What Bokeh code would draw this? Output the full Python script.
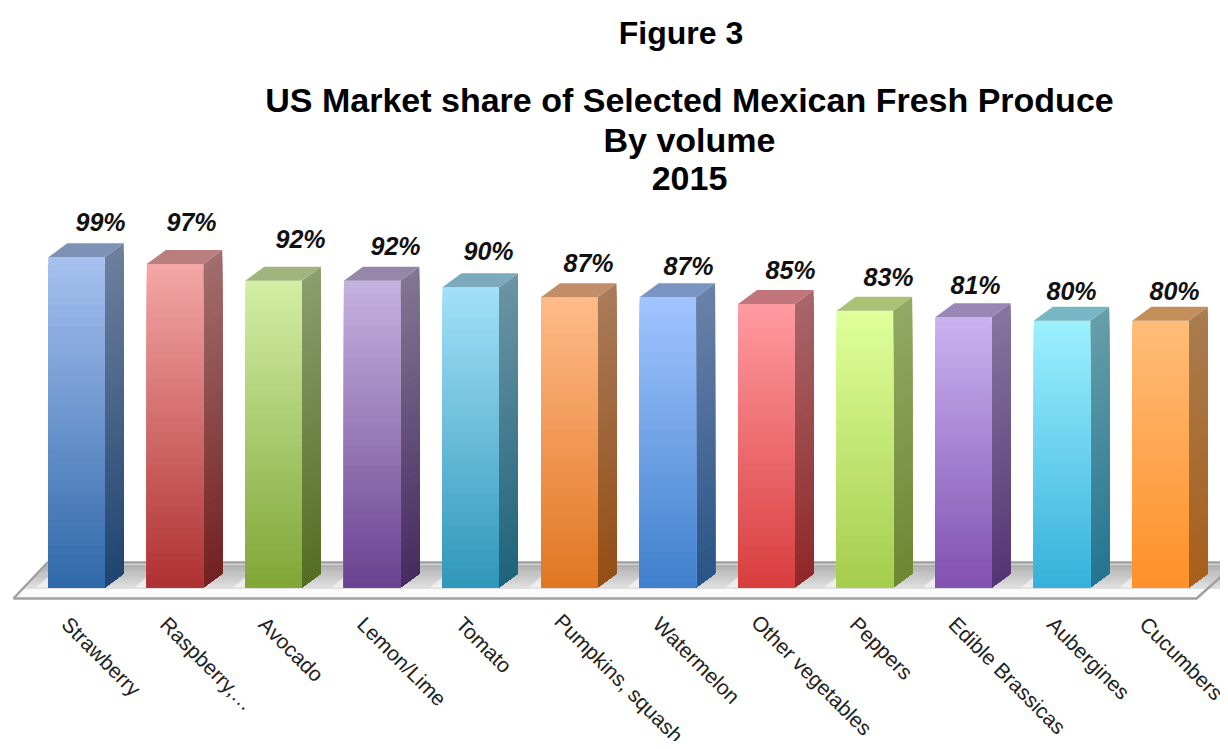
from bokeh.plotting import figure
from bokeh.embed import file_html
from bokeh.resources import INLINE
from bokeh.core.properties import value

# ---------- data ----------
categories = ["Strawberry", "Raspberry,…", "Avocado", "Lemon/Lime", "Tomato", "Pumpkins, squash",
              "Watermelon", "Other vegetables", "Peppers", "Edible Brassicas", "Aubergines", "Cucumbers"]
shares = [99, 97, 92, 92, 90, 87, 87, 85, 83, 81, 80, 80]
top_colors = ["#A6C0F0", "#F3A6A5", "#D2EEA5", "#C4B2DE", "#A2E0F8", "#FFBA88",
              "#A0C4FF", "#FF9AA0", "#DEFF9A", "#C9B2F0", "#9CF0FF", "#FFBC78"]
bottom_colors = ["#2E67A8", "#AE3030", "#7FA535", "#6A4090", "#2E96B8", "#E07520",
                 "#3F7FCC", "#D83C3C", "#A5CC4C", "#8050B0", "#35B0DA", "#FF9028"]
figure_label = "Figure 3"
title_lines = ["US Market share of Selected Mexican Fresh Produce", "By volume", "2015"]

# ---------- layout (pixels in the picture) ----------
W, H = 1220, 741
PX_X = 98.55        # pixels per category
PX_Y = 3.335        # pixels per percentage point
X0_PAGE, Y0_PAGE = 76, 587
FX = lambda px: (px - X0_PAGE) / PX_X
FY = lambda py: (Y0_PAGE - py) / PX_Y
BAR_W = 56.5 / PX_X
DX, DY = 19 / PX_X, 14 / PX_Y
label_page_x = [100, 191, 300, 395, 488, 588, 688, 790, 888, 975, 1071, 1174]
label_page_y = [221, 221, 238, 245, 250, 262, 265, 269, 276, 284, 290, 290]
cat_nudge_x = [0, 0, 0, 0, 0, 0, 0, 0, 0, 0, 0, -6]
cat_nudge_y = [0, 0, 0, 0, 0, -3, 0, -2, 0, 0, 0, 0]
STEPS = 48


def rgb(h):
    return [int(h[i:i + 2], 16) for i in (1, 3, 5)]


def mix(a, b, t, f=1.0):
    c = [(x + (y - x) * t) * f for x, y in zip(rgb(a), rgb(b))]
    return "#%02x%02x%02x" % tuple(int(round(v)) for v in c)


p = figure(width=W, height=H, output_backend="svg", toolbar_location=None,
           x_range=(FX(0), FX(W)), y_range=(FY(H), FY(0)),
           min_border=0, outline_line_color=None, background_fill_color="white")
p.axis.visible = False
p.grid.visible = False

# ---------- floor ----------
fl, fr, bl, br = FX(13), FX(1196), FX(47), FX(1232)
yf, yb = FY(598), FY(562)
p.patch([fl, fr, br, bl], [yf, yf, yb, yb], fill_color="#FBFBFB", line_color=None)
band_n = 22
for k in range(band_n):
    t = k / band_n
    py0 = 564 + 24 * t
    py1 = 564 + 24 * (t + 1 / band_n) + 0.6
    shade = mix("#B0B0B0", "#E2E2E2", t)
    x_l0 = 47 - (py0 - 562)
    x_l1 = 47 - (py1 - 562)
    p.patch([FX(x_l1), FX(1230), FX(1230), FX(x_l0)], [FY(py1), FY(py1), FY(py0), FY(py0)],
            fill_color=shade, line_color=None)
xs_d, ys_d = [], []
for i in range(-1, 12):
    cx = 76 + PX_X * i
    xs_d.append([FX(cx + 58), FX(cx + 74), FX(cx + 98), FX(cx + 82)])
    ys_d.append([FY(587), FY(587), FY(566), FY(566)])
p.patches(xs_d, ys_d, fill_color="#FFFFFF", fill_alpha=0.55, line_color=None)
p.line([fl, bl, br], [yf, yb, yb], line_color="#A0A0A0", line_width=2.5)
p.line([fl, fr, br], [yf, yf, FY(566)], line_color="#A0A0A0", line_width=2.5)

# ---------- bars ----------
for i, v in enumerate(shares):
    xl, xr = i - BAR_W / 2, i + BAR_W / 2
    sx, sy, fx0, fy0, fx1, fy1 = [], [], [], [], [], []
    side_cols, front_cols = [], []
    for k in range(STEPS):
        t = k / STEPS
        h = v * (1 - t)
        fx0.append(xl); fx1.append(xr); fy0.append(0); fy1.append(h)
        front_cols.append(mix(top_colors[i], bottom_colors[i], t))
        sx.append([xr, xr + DX, xr + DX, xr])
        sy.append([0, DY, h + DY, h])
        side_cols.append(mix(top_colors[i], bottom_colors[i], t, 0.66))
    p.patches(sx, sy, fill_color=side_cols, line_color=None)
    p.quad(left=fx0, right=fx1, bottom=fy0, top=fy1, fill_color=front_cols, line_color=None)
    p.patch([xl, xr, xr + DX, xl + DX], [v, v, v + DY, v + DY],
            fill_color=mix(top_colors[i], bottom_colors[i], 0, 0.76), line_color=None)

# ---------- texts ----------
FONT = value("Liberation Sans")
p.text([FX(680.5)], [FY(32)], text=[figure_label], text_font=FONT, text_font_size="32px",
       text_font_style="bold", text_align="center", text_baseline="middle", text_color="#000000")
for line, py in zip(title_lines, [99, 139, 178]):
    p.text([FX(689)], [FY(py)], text=[line], text_font=FONT, text_font_size="34px",
           text_font_style="bold", text_align="center", text_baseline="middle", text_color="#000000")
p.text([FX(x) for x in label_page_x], [FY(y) for y in label_page_y],
       text=[f"{v}%" for v in shares], text_font=FONT, text_font_size="25px",
       text_font_style="bold italic", text_align="center", text_baseline="middle", text_color="#111111")
p.text([FX(65 + PX_X * i + cat_nudge_x[i]) for i in range(12)], [FY(620 + cat_nudge_y[i]) for i in range(12)],
       text=categories, angle=-45, angle_units="deg",
       text_font=FONT, text_font_size="21px", text_align="left", text_baseline="middle", text_color="#222222")

open("out.html", "w").write(file_html(p, INLINE))
